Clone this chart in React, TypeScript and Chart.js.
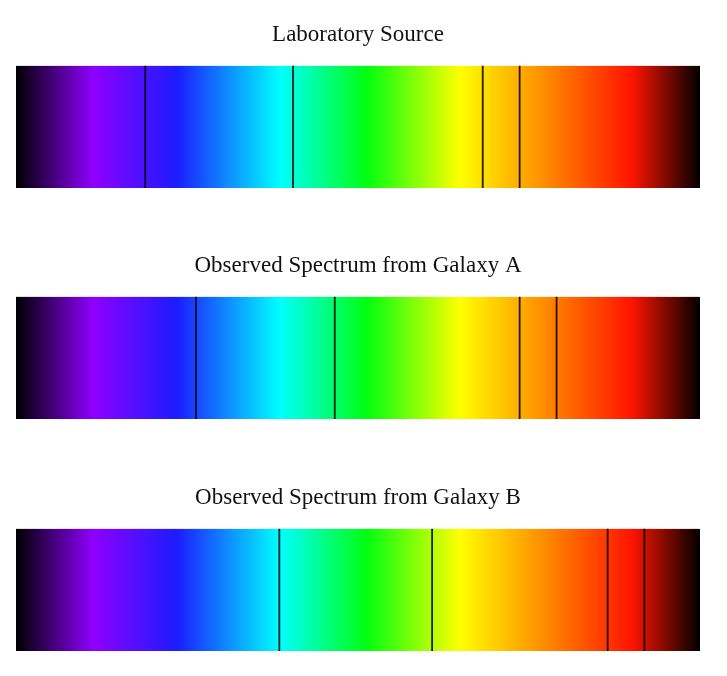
import React, { useEffect, useRef } from "react";
import { Chart, registerables } from "chart.js";

Chart.register(...registerables);

// Wavelength axis (nm)
const WAVELENGTH_MIN = 400;
const WAVELENGTH_MAX = 700;

const panelTitles = [
  "Laboratory Source",
  "Observed Spectrum from Galaxy A",
  "Observed Spectrum from Galaxy B",
];

// Absorption line wavelengths (nm)
const labLines = [456.7, 521.5, 604.7, 620.9];
const galaxyALines = [478.9, 539.8, 620.9, 637.1];
const galaxyBLines = [515.5, 582.5, 659.5, 675.6];

const panelLines = [labLines, galaxyALines, galaxyBLines];

// Style: spectrum colour stops (fraction along axis, colour)
const SPECTRUM_STOPS: [number, string][] = [
  [0.0, "#000000"],
  [0.113, "#8e00ff"],
  [0.235, "#1c1cff"],
  [0.386, "#00ffff"],
  [0.513, "#00ff10"],
  [0.649, "#ffff00"],
  [0.9, "#ff1400"],
  [1.0, "#000000"],
];

const PANEL_TOPS = [0, 231, 463];
const PANEL_HEIGHT = 200;

function SpectrumPanel({ title, lines, top }: { title: string; lines: number[]; top: number }) {
  const ref = useRef<HTMLCanvasElement | null>(null);

  useEffect(() => {
    if (!ref.current) return;
    const gradientFill = (context: any) => {
      const chart = context.chart;
      const { ctx, chartArea, scales } = chart;
      if (!chartArea || !scales || !scales.x) return "rgba(0,0,0,0)";
      const x0 = scales.x.getPixelForValue(WAVELENGTH_MIN);
      const x1 = scales.x.getPixelForValue(WAVELENGTH_MAX);
      const g = ctx.createLinearGradient(x0, 0, x1, 0);
      SPECTRUM_STOPS.forEach(([f, c]) => g.addColorStop(f, c));
      return g;
    };

    const datasets: any[] = [
      {
        label: "spectrum",
        data: [
          { x: WAVELENGTH_MIN, y: 1 },
          { x: WAVELENGTH_MAX, y: 1 },
        ],
        borderWidth: 0,
        borderColor: "rgba(0,0,0,0)",
        pointRadius: 0,
        fill: "origin",
        backgroundColor: gradientFill,
        order: 2,
      },
      ...lines.map((w, i) => ({
        label: "line " + (i + 1),
        data: [
          { x: w, y: 0 },
          { x: w, y: 1 },
        ],
        borderColor: "rgba(10,0,0,0.88)",
        borderWidth: 1.8,
        pointRadius: 0,
        fill: false,
        order: 1,
      })),
    ];

    const chart = new Chart(ref.current, {
      type: "line",
      data: { datasets },
      options: {
        animation: false,
        responsive: true,
        maintainAspectRatio: false,
        layout: { padding: { left: 16, right: 27, top: 0, bottom: 12 } },
        scales: {
          x: { type: "linear", min: WAVELENGTH_MIN, max: WAVELENGTH_MAX, display: false },
          y: { type: "linear", min: 0, max: 1, display: false },
        },
        plugins: {
          legend: { display: false },
          tooltip: { enabled: false },
          title: {
            display: true,
            text: title,
            color: "#111111",
            font: { family: "'Liberation Serif', serif", size: 23, weight: "normal", lineHeight: 1.2 },
            padding: { top: 21, bottom: 17 },
          },
        },
      },
    });
    return () => chart.destroy();
  }, [title, lines]);

  return (
    <div style={{ position: "absolute", left: 0, top, width: 727, height: PANEL_HEIGHT }}>
      <canvas ref={ref} />
    </div>
  );
}

export default function App() {
  return (
    <div
      style={{
        position: "absolute",
        left: 0,
        top: 0,
        width: 727,
        height: 676,
        overflow: "hidden",
        background: "#ffffff",
      }}
    >
      {panelTitles.map((t, i) => (
        <SpectrumPanel key={t} title={t} lines={panelLines[i]} top={PANEL_TOPS[i]} />
      ))}
    </div>
  );
}
